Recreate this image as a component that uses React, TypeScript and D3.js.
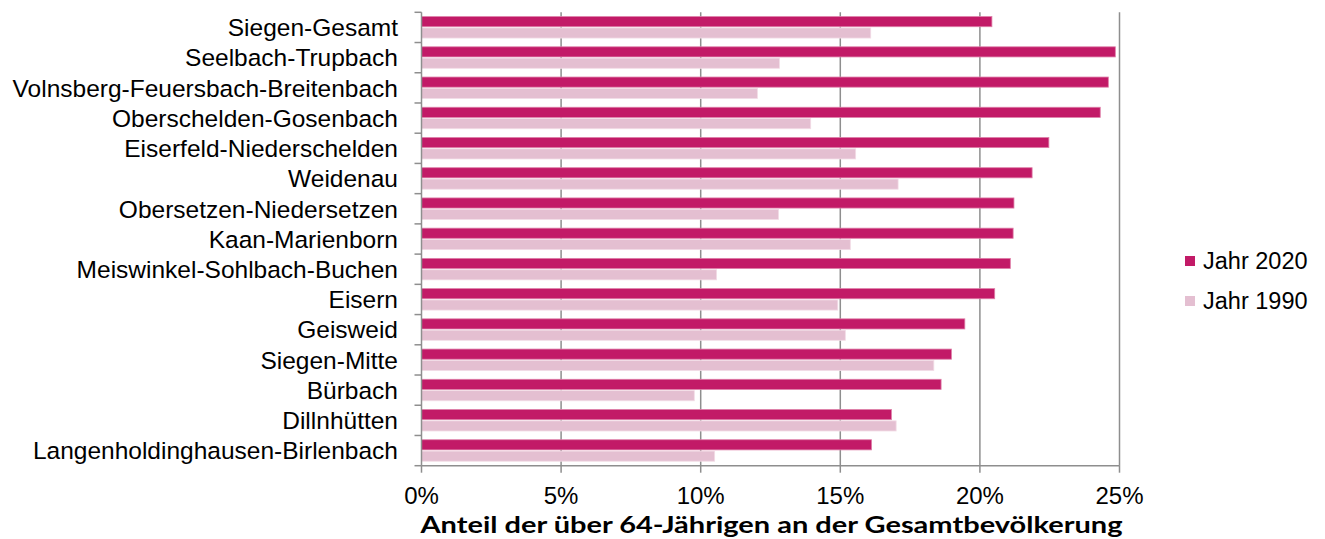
import React from "react";
import * as d3 from "d3";

const districts = [
  "Siegen-Gesamt",
  "Seelbach-Trupbach",
  "Volnsberg-Feuersbach-Breitenbach",
  "Oberschelden-Gosenbach",
  "Eiserfeld-Niederschelden",
  "Weidenau",
  "Obersetzen-Niedersetzen",
  "Kaan-Marienborn",
  "Meiswinkel-Sohlbach-Buchen",
  "Eisern",
  "Geisweid",
  "Siegen-Mitte",
  "Bürbach",
  "Dillnhütten",
  "Langenholdinghausen-Birlenbach",
];

// share of residents aged over 64, in percent
const share2020 = [20.43, 24.85, 24.6, 24.31, 22.47, 21.87, 21.22, 21.19, 21.09, 20.53, 19.46, 18.98, 18.61, 16.83, 16.12];
const share1990 = [16.09, 12.82, 12.03, 13.94, 15.55, 17.07, 12.79, 15.36, 10.57, 14.91, 15.18, 18.35, 9.77, 17.0, 10.5];

const seriesNames = ["Jahr 2020", "Jahr 1990"];
const seriesColors = ["#C21A67", "#E4BFD1"];
const seriesStroke = ["#DE7FA8", "#F2DCE6"];
const xTicks = [0, 5, 10, 15, 20, 25];
const axisTitle = "Anteil der über 64-Jährigen an der Gesamtbevölkerung";

const W = 1325;
const H = 539;
const plot = { left: 421.5, right: 1119.5, top: 12.3, bottom: 465.7 };
const axisColor = "#8E8E8E";
const font = "'Liberation Sans', Arial, sans-serif";

export default function App() {
  const x = d3.scaleLinear().domain([0, 25]).range([plot.left, plot.right]);
  const y = d3
    .scaleBand<string>()
    .domain(districts)
    .range([plot.top, plot.bottom])
    .paddingInner(0.25)
    .paddingOuter(0.125);
  const sub = d3.scaleBand<number>().domain([0, 1]).range([0, y.bandwidth()]).padding(0);
  const rowH = (plot.bottom - plot.top) / districts.length;
  const values = [share2020, share1990];

  return (
    <svg width={W} height={H} style={{ position: "absolute", left: 0, top: 0, background: "#fff" }}>
      {/* vertical gridlines */}
      {xTicks.slice(1).map((t) => (
        <line key={"g" + t} x1={x(t)} x2={x(t)} y1={plot.top} y2={plot.bottom} stroke={axisColor} strokeWidth={1.5} />
      ))}

      {/* bars */}
      {districts.map((d, i) =>
        values.map((vals, s) => {
          const y0 = (y(d) as number) + (sub(s) as number);
          return (
            <rect
              key={d + s}
              x={x(0)}
              y={y0 + 0.5}
              width={x(vals[i]) - x(0)}
              height={sub.bandwidth() - 1.2}
              fill={seriesColors[s]}
              stroke={seriesStroke[s]}
              strokeWidth={0.8}
            />
          );
        })
      )}

      {/* axes */}
      <line x1={plot.left} x2={plot.left} y1={plot.top} y2={plot.bottom} stroke={axisColor} strokeWidth={1.5} />
      <line x1={plot.left} x2={plot.right} y1={plot.bottom} y2={plot.bottom} stroke={axisColor} strokeWidth={1.5} />

      {/* category ticks and labels */}
      {d3.range(districts.length + 1).map((k) => (
        <line
          key={"ct" + k}
          x1={plot.left - 7}
          x2={plot.left}
          y1={plot.top + k * rowH}
          y2={plot.top + k * rowH}
          stroke={axisColor}
          strokeWidth={1.5}
        />
      ))}
      {districts.map((d) => (
        <text
          key={"l" + d}
          x={398}
          y={(y(d) as number) + y.bandwidth() / 2 + 8.8}
          textAnchor="end"
          fontFamily={font}
          fontSize={24.5}
          fill="#000"
        >
          {d}
        </text>
      ))}

      {/* value ticks and labels */}
      {xTicks.map((t) => (
        <g key={"xt" + t}>
          <line x1={x(t)} x2={x(t)} y1={plot.bottom} y2={plot.bottom + 7} stroke={axisColor} strokeWidth={1.5} />
          <text x={x(t)} y={504} textAnchor="middle" fontFamily={font} fontSize={24} fill="#000">
            {t + "%"}
          </text>
        </g>
      ))}

      <text
        x={(plot.left + plot.right) / 2 + 1}
        y={533}
        textAnchor="middle"
        fontFamily="Lato, 'Open Sans', sans-serif"
        fontWeight="bold"
        fontSize={22.5}
        textLength={702}
        lengthAdjust="spacingAndGlyphs"
        fill="#000"
      >
        {axisTitle}
      </text>

      {/* legend */}
      {seriesNames.map((n, s) => (
        <g key={"lg" + n} transform={`translate(1185, ${256 + s * 40})`}>
          <rect x={0} y={0} width={10} height={10} fill={seriesColors[s]} />
          <text x={18} y={13} fontFamily={font} fontSize={23.5} fill="#000">
            {n}
          </text>
        </g>
      ))}
    </svg>
  );
}
